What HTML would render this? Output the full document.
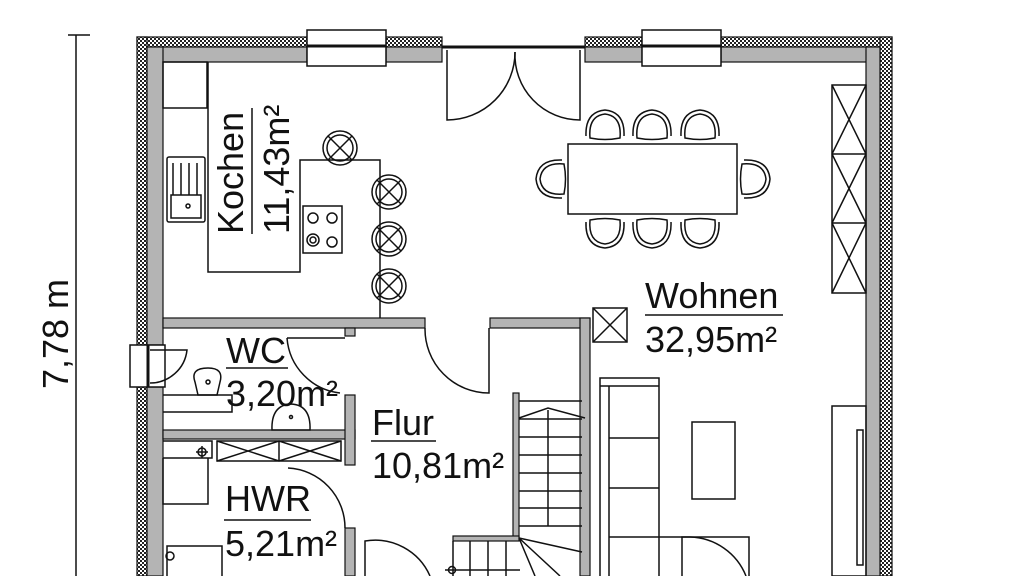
<!DOCTYPE html>
<html><head><meta charset="utf-8"><style>
html,body{margin:0;padding:0;background:#fff;width:1024px;height:576px;overflow:hidden}
text{font-family:"Liberation Sans",sans-serif;fill:#111}
</style></head><body>
<svg width="1024" height="576" viewBox="0 0 1024 576" xmlns="http://www.w3.org/2000/svg">
<defs>
<pattern id="h" width="4" height="4" patternUnits="userSpaceOnUse">
<rect width="4" height="4" fill="#fff"/><rect width="2" height="2" fill="#222"/><rect x="2" y="2" width="2" height="2" fill="#222"/>
</pattern>
<g id="st" fill="none" stroke="#111" stroke-width="1.5"><circle cx="0" cy="0" r="17"/><path d="M-12 -12 L12 12 M12 -12 L-12 12"/><circle cx="0" cy="0" r="13"/></g>
<g id="ch" fill="none" stroke="#111" stroke-width="1.5"><path d="M-15 16 Q-17 -6 0 -8 Q17 -6 15 16 Q0 19 -15 16 Z"/><path d="M-19 14 Q-20 -10 0 -12 Q20 -10 19 14"/></g>
</defs>
<g stroke="#111" stroke-width="1.5" fill="none">
<line x1="76" y1="35" x2="76" y2="576"/>
<line x1="68" y1="35" x2="90" y2="35"/>
</g>
<text x="0" y="0" font-size="36" transform="translate(68,334) rotate(-90)" text-anchor="middle">7,78 m</text>

<g stroke="#111" stroke-width="1.2">
<rect x="137" y="37" width="170" height="10" fill="url(#h)"/>
<rect x="386" y="37" width="56" height="10" fill="url(#h)"/>
<rect x="585" y="37" width="57" height="10" fill="url(#h)"/>
<rect x="721" y="37" width="171" height="10" fill="url(#h)"/>
<rect x="137" y="37" width="10" height="308" fill="url(#h)"/>
<rect x="137" y="387" width="10" height="189" fill="url(#h)"/>
<rect x="880" y="37" width="12" height="539" fill="url(#h)"/>
</g>
<g fill="#b4b4b4" stroke="#111" stroke-width="1.2">
<rect x="147" y="47" width="160" height="15"/>
<rect x="386" y="47" width="56" height="15"/>
<rect x="585" y="47" width="57" height="15"/>
<rect x="721" y="47" width="159" height="15"/>
<rect x="147" y="47" width="16" height="298"/>
<rect x="147" y="387" width="16" height="189"/>
<rect x="866" y="47" width="14" height="529"/>
<rect x="163" y="318" width="262" height="10"/>
<rect x="490" y="318" width="100" height="10"/>
<rect x="580" y="318" width="10" height="258"/>
<rect x="163" y="430" width="192" height="9"/>
<rect x="345" y="395" width="10" height="70"/>
<rect x="345" y="528" width="10" height="48"/>
<rect x="345" y="328" width="10" height="8"/>
<rect x="513" y="393" width="6" height="146"/>
<rect x="453" y="536" width="66" height="5"/>
</g>
<g fill="none" stroke="#111" stroke-width="1.5">
<rect x="307" y="30" width="79" height="36" fill="#fff"/>
<line x1="307" y1="46" x2="386" y2="46" stroke-width="3"/>
<rect x="642" y="30" width="79" height="36" fill="#fff"/>
<line x1="642" y1="46" x2="721" y2="46" stroke-width="3"/>
<rect x="130" y="345" width="35" height="42" fill="#fff"/>
<line x1="148" y1="345" x2="148" y2="387" stroke-width="3"/>
<path d="M150 350 H187 A 37 37 0 0 1 150 383"/>
<line x1="442" y1="47" x2="585" y2="47" stroke-width="3"/>
<path d="M447 50 V120 A68 68 0 0 0 515 52"/>
<path d="M580 50 V120 A65 65 0 0 1 515 52"/>
<rect x="163" y="62" width="44" height="46"/>
<path d="M208 62 V272 H300 V160 H380 V318"/>
<rect x="167" y="157" width="38" height="65" rx="2"/>
<path d="M173 163 V195 M181 163 V195 M189 163 V195 M197 163 V195 M171 195 H201 V218 H171 Z"/>
<circle cx="188" cy="206" r="2"/>
<rect x="303" y="206" width="39" height="47"/>
<circle cx="313" cy="218" r="5"/><circle cx="332" cy="218" r="5"/><circle cx="313" cy="240" r="6"/><circle cx="313" cy="240" r="3"/><circle cx="332" cy="242" r="5"/>
<rect x="568" y="144" width="169" height="70"/>
<rect x="832" y="85" width="34" height="208"/>
<path d="M832 154 H866 M832 223 H866 M832 85 L866 154 M866 85 L832 154 M832 154 L866 223 M866 154 L832 223 M832 223 L866 293 M866 223 L832 293"/>
<rect x="593" y="308" width="34" height="34"/><path d="M593 308 L627 342 M627 308 L593 342"/>
<path d="M600 576 V378 H659 V576 M600 386 H659 M609 386 V576 M609 438 H659 M609 488 H659 M609 537 H749 V576"/>
<rect x="692" y="422" width="43" height="77"/>
<path d="M682 576 V537 H690 A 62 62 0 0 1 746 576"/>
<rect x="832" y="406" width="34" height="170"/>
<rect x="857" y="430" width="6" height="135"/>
<path d="M519 401 H582 M519 419 H582 M519 437 H582 M519 455 H582 M519 473 H582 M519 491 H582 M519 508 H582 M519 526 H582 M548 410 V526 M519 418 L548 408 L585 418"/>
<path d="M519 538 L582 552 M519 538 L560 576 M519 538 L535 576 M470 541 V576 M488 541 V576 M506 541 V576 M453 541 V576 M445 570 H520"/>
<circle cx="452" cy="570" r="3.5"/>
<path d="M425 328 A 64 64 0 0 0 489 393 V328"/>
<path d="M287 338 H345 M287 338 A 60 60 0 0 0 340 393"/>
<path d="M163 395 H232 V412 H163"/>
<path d="M198 395 L195 382 Q190 368 208 368 Q224 368 220 382 L217 395 Z"/><circle cx="208" cy="382" r="2"/>
<path d="M272 430 Q271 405 291 404 Q311 405 310 430 Z"/><circle cx="291" cy="417" r="1.5"/>
<path d="M163 441 H212 V458 H163 M163 458 V504 H208 V458"/>
<circle cx="202" cy="452" r="4"/><path d="M196 452 H208 M202 446 V458"/>
<rect x="217" y="441" width="124" height="20"/>
<path d="M217 441 L279 461 M279 441 L217 461 M279 441 V461 M279 441 L341 461 M341 441 L279 461"/>
<path d="M288 468 A 60 60 0 0 1 345 528"/>
<path d="M167 576 V546 H222 V576"/><circle cx="170" cy="556" r="4"/>
<path d="M365 576 V541 A 60 60 0 0 1 430 576"/>
</g>
<use href="#st" x="340" y="148"/><use href="#st" x="389" y="192"/><use href="#st" x="389" y="239"/><use href="#st" x="389" y="286"/>
<use href="#ch" x="605" y="122"/><use href="#ch" x="652" y="122"/><use href="#ch" x="700" y="122"/>
<use href="#ch" transform="translate(605,236) rotate(180)"/><use href="#ch" transform="translate(652,236) rotate(180)"/><use href="#ch" transform="translate(700,236) rotate(180)"/>
<use href="#ch" transform="translate(548,179) rotate(-90)"/><use href="#ch" transform="translate(758,179) rotate(90)"/>
<g font-size="36">
<text transform="translate(243,234) rotate(-90)">Kochen</text>
<line x1="252" y1="108" x2="252" y2="234" stroke="#111" stroke-width="1.5"/>
<text transform="translate(289,234) rotate(-90)">11,43m²</text>
<text x="226" y="363">WC</text><line x1="226" y1="368" x2="288" y2="368" stroke="#111" stroke-width="1.5"/>
<text x="226" y="406">3,20m²</text>
<text x="372" y="435">Flur</text><line x1="371" y1="441" x2="436" y2="441" stroke="#111" stroke-width="1.5"/>
<text x="372" y="478">10,81m²</text>
<text x="225" y="511">HWR</text><line x1="224" y1="520" x2="311" y2="520" stroke="#111" stroke-width="1.5"/>
<text x="225" y="556">5,21m²</text>
<text x="645" y="308">Wohnen</text><line x1="645" y1="315" x2="783" y2="315" stroke="#111" stroke-width="1.5"/>
<text x="645" y="352">32,95m²</text>
</g>
</svg>
</body></html>
